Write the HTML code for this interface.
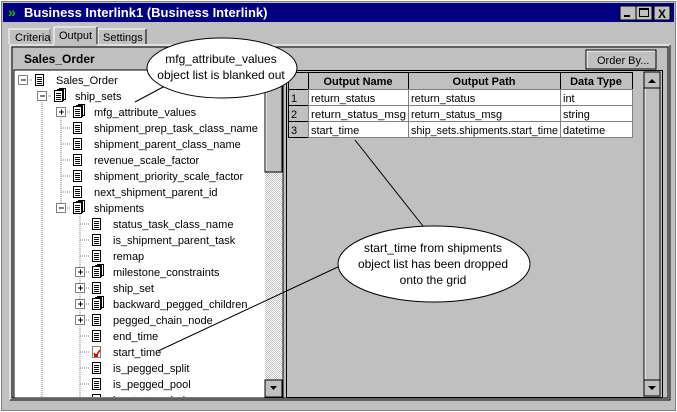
<!DOCTYPE html>
<html><head><meta charset="utf-8"><style>
html,body{margin:0;padding:0;background:#c0c0c0;}
svg{display:block;font-family:"Liberation Sans",sans-serif;}
</style></head><body>
<svg width="677" height="412" viewBox="0 0 677 412" xmlns="http://www.w3.org/2000/svg">
<defs>
<pattern id="chk" width="2" height="2" patternUnits="userSpaceOnUse"><rect width="2" height="2" fill="#fff"/><rect width="1" height="1" fill="#c0c0c0"/><rect x="1" y="1" width="1" height="1" fill="#c0c0c0"/></pattern>
<g id="doc"><rect x="0.5" y="0.5" width="8" height="11" fill="#fff" stroke="#000"/><line x1="2" y1="3.5" x2="7" y2="3.5" stroke="#000"/><line x1="2" y1="5.5" x2="7" y2="5.5" stroke="#000"/><line x1="2" y1="7.5" x2="7" y2="7.5" stroke="#000"/><line x1="2" y1="9.5" x2="7" y2="9.5" stroke="#000"/></g>
<g id="docs"><rect x="5.5" y="-1.5" width="6" height="11" fill="#fff" stroke="#000"/><rect x="3.5" y="-0.5" width="6" height="11" fill="#fff" stroke="#000"/><use href="#doc"/></g>
<g id="plus"><rect x="-4.5" y="-4.5" width="9" height="9" fill="#fff" stroke="#808080"/><line x1="-2" y1="0" x2="3" y2="0" stroke="#000"/><line x1="0.5" y1="-2.5" x2="0.5" y2="2.5" stroke="#000"/></g>
<g id="minus"><rect x="-4.5" y="-4.5" width="9" height="9" fill="#fff" stroke="#808080"/><line x1="-2" y1="0" x2="3" y2="0" stroke="#000"/></g>
</defs>
<rect x="0" y="0" width="677" height="412" fill="#c0c0c0"/>
<rect x="0.5" y="0.5" width="676" height="411" fill="none" stroke="#fff"/>
<rect x="1.5" y="1.5" width="674" height="409" fill="none" stroke="#808080"/>
<rect x="3" y="3" width="671" height="19" fill="#000080"/>
<text x="8" y="17" fill="#0c0" font-size="14" font-weight="bold">»</text>
<text x="24" y="17" fill="#fff" font-size="13" font-weight="bold">Business Interlink1 (Business Interlink)</text>
<g font-size="11" font-weight="bold">
<rect x="620" y="6" width="16" height="14" fill="#c0c0c0" stroke="#000"/><line x1="624" y1="16" x2="630" y2="16" stroke="#000" stroke-width="2"/>
<rect x="636" y="6" width="16" height="14" fill="#c0c0c0" stroke="#000"/><rect x="639.5" y="8.5" width="9" height="8" fill="none" stroke="#000"/><line x1="639" y1="9.5" x2="649" y2="9.5" stroke="#000"/>
<rect x="654" y="6" width="16" height="14" fill="#c0c0c0" stroke="#000"/><text x="658" y="18" font-size="12">X</text>
</g>
<g font-size="11">
<path d="M9 44 V29 H50 V44" fill="none" stroke="#fff"/><line x1="50" y1="29" x2="50" y2="44" stroke="#808080"/>
<text x="15" y="41">Criteria</text>
<path d="M54 44 V27 H97 V44" fill="none" stroke="#fff"/><line x1="97" y1="27" x2="97" y2="44" stroke="#000"/>
<text x="59" y="39">Output</text>
<path d="M98 44 V29 H146 V44" fill="none" stroke="#fff"/><line x1="146" y1="29" x2="146" y2="44" stroke="#000"/>
<text x="103" y="41">Settings</text>
</g>
<path d="M10 400 V45 H54 M97 45 H670" fill="none" stroke="#fff"/>
<path d="M10 400 H670 V45" fill="none" stroke="#000"/>
<rect x="12" y="47" width="656" height="351" fill="none" stroke="#000"/>
<text x="24" y="63" font-size="12" font-weight="bold">Sales_Order</text>
<rect x="586" y="50" width="70" height="19" fill="#c0c0c0" stroke="#000"/>
<path d="M587 68 V51 H655" fill="none" stroke="#fff"/>
<text x="597" y="64" font-size="11">Order By...</text>
<rect x="14" y="70" width="269" height="328" fill="#fff" stroke="#000"/>
<rect x="265" y="71" width="17" height="326" fill="url(#chk)"/>
<rect x="265" y="71" width="17" height="101" fill="#c0c0c0" stroke="#000"/>
<path d="M266 171 V72 H281" fill="none" stroke="#fff"/>
<rect x="265" y="380" width="17" height="17" fill="#c0c0c0" stroke="#000"/>
<path d="M270 386 h7 l-3.5 4z" fill="#000"/>
<svg x="15" y="71" width="250" height="326" overflow="hidden">
<g transform="translate(-15,-71)" font-size="11">
<g stroke="#808080" stroke-dasharray="1,1">
<line x1="42" y1="96" x2="42" y2="400"/>
<line x1="61" y1="112" x2="61" y2="208"/>
<line x1="80" y1="214" x2="80" y2="400"/>
<line x1="27" y1="80" x2="33" y2="80"/><line x1="46" y1="96" x2="52" y2="96"/>
<line x1="65" y1="112" x2="71" y2="112"/>
<line x1="61" y1="128" x2="71" y2="128"/><line x1="61" y1="144" x2="71" y2="144"/><line x1="61" y1="160" x2="71" y2="160"/><line x1="61" y1="176" x2="71" y2="176"/><line x1="61" y1="192" x2="71" y2="192"/>
<line x1="65" y1="208" x2="71" y2="208"/>
<line x1="80" y1="224" x2="90" y2="224"/><line x1="80" y1="240" x2="90" y2="240"/><line x1="80" y1="256" x2="90" y2="256"/>
<line x1="84" y1="272" x2="90" y2="272"/><line x1="84" y1="288" x2="90" y2="288"/><line x1="84" y1="304" x2="90" y2="304"/><line x1="84" y1="320" x2="90" y2="320"/>
<line x1="80" y1="336" x2="90" y2="336"/><line x1="80" y1="352" x2="90" y2="352"/><line x1="80" y1="368" x2="90" y2="368"/><line x1="80" y1="384" x2="90" y2="384"/><line x1="80" y1="400" x2="90" y2="400"/>
</g>
<use href="#minus" x="23" y="80"/><use href="#doc" x="35" y="74"/><text x="56" y="84">Sales_Order</text>
<use href="#minus" x="42" y="96"/><use href="#docs" x="54" y="90"/><text x="75" y="100">ship_sets</text>
<use href="#plus" x="61" y="112"/><use href="#docs" x="73" y="106"/><text x="94" y="116">mfg_attribute_values</text>
<use href="#doc" x="73" y="122"/><text x="94" y="132">shipment_prep_task_class_name</text>
<use href="#doc" x="73" y="138"/><text x="94" y="148">shipment_parent_class_name</text>
<use href="#doc" x="73" y="154"/><text x="94" y="164">revenue_scale_factor</text>
<use href="#doc" x="73" y="170"/><text x="94" y="180">shipment_priority_scale_factor</text>
<use href="#doc" x="73" y="186"/><text x="94" y="196">next_shipment_parent_id</text>
<use href="#minus" x="61" y="208"/><use href="#docs" x="73" y="202"/><text x="94" y="212">shipments</text>
<use href="#doc" x="92" y="218"/><text x="113" y="228">status_task_class_name</text>
<use href="#doc" x="92" y="234"/><text x="113" y="244">is_shipment_parent_task</text>
<use href="#doc" x="92" y="250"/><text x="113" y="260">remap</text>
<use href="#plus" x="80" y="272"/><use href="#docs" x="92" y="266"/><text x="113" y="276">milestone_constraints</text>
<use href="#plus" x="80" y="288"/><use href="#doc" x="92" y="282"/><text x="113" y="292">ship_set</text>
<use href="#plus" x="80" y="304"/><use href="#docs" x="92" y="298"/><text x="113" y="308">backward_pegged_children</text>
<use href="#plus" x="80" y="320"/><use href="#doc" x="92" y="314"/><text x="113" y="324">pegged_chain_node</text>
<use href="#doc" x="92" y="330"/><text x="113" y="340">end_time</text>
<rect x="92.5" y="346.5" width="8" height="11" fill="#fff" stroke="#808080"/><path d="M94 353 l2 3 l4 -6" stroke="#d00" stroke-width="1.5" fill="none"/><rect x="94" y="354" width="4" height="3" fill="#d00"/><text x="113" y="356">start_time</text>
<use href="#doc" x="92" y="362"/><text x="113" y="372">is_pegged_split</text>
<use href="#doc" x="92" y="378"/><text x="113" y="388">is_pegged_pool</text>
<use href="#doc" x="92" y="394"/><text x="113" y="404">is_start_period</text>
</g></svg>
<rect x="286.5" y="70.5" width="376" height="327" fill="#c0c0c0" stroke="#000"/>
<g font-size="11">
<g fill="#c0c0c0" stroke="#000">
<rect x="288.5" y="72.5" width="20" height="17"/><rect x="308.5" y="72.5" width="100" height="17"/><rect x="408.5" y="72.5" width="152" height="17"/><rect x="560.5" y="72.5" width="72" height="17"/>
<rect x="288.5" y="89.5" width="20" height="16"/><rect x="288.5" y="105.5" width="20" height="16"/><rect x="288.5" y="121.5" width="20" height="16"/>
</g>
<g fill="#fff" stroke="#808080">
<rect x="308.5" y="89.5" width="100" height="16"/><rect x="408.5" y="89.5" width="152" height="16"/><rect x="560.5" y="89.5" width="72" height="16"/>
<rect x="308.5" y="105.5" width="100" height="16"/><rect x="408.5" y="105.5" width="152" height="16"/><rect x="560.5" y="105.5" width="72" height="16"/>
<rect x="308.5" y="121.5" width="100" height="16"/><rect x="408.5" y="121.5" width="152" height="16"/><rect x="560.5" y="121.5" width="72" height="16"/>
</g>
<g font-weight="bold" text-anchor="middle"><text x="358" y="85">Output Name</text><text x="484" y="85">Output Path</text><text x="596" y="85">Data Type</text></g>
<text x="291" y="102">1</text><text x="291" y="118">2</text><text x="291" y="134">3</text>
<text x="311" y="102">return_status</text><text x="411" y="102">return_status</text><text x="563" y="102">int</text>
<text x="311" y="118" textLength="95" lengthAdjust="spacingAndGlyphs">return_status_msg</text><text x="411" y="118">return_status_msg</text><text x="563" y="118">string</text>
<text x="311" y="134">start_time</text><text x="411" y="134" textLength="147" lengthAdjust="spacingAndGlyphs">ship_sets.shipments.start_time</text><text x="563" y="134">datetime</text>
</g>
<rect x="644" y="72" width="16" height="324" fill="#c0c0c0" stroke="#000"/>
<line x1="645" y1="88" x2="645" y2="380" stroke="#fff"/>
<rect x="644" y="72" width="16" height="16" fill="#c0c0c0" stroke="#000"/><path d="M648 83 h8 l-4 -4z" fill="#000"/>
<rect x="644" y="380" width="16" height="16" fill="#c0c0c0" stroke="#000"/><path d="M648 386 h8 l-4 4z" fill="#000"/>
<g stroke="#000" stroke-width="1" fill="#fff">
<line x1="135" y1="102" x2="165" y2="86"/>
<ellipse cx="222" cy="68" rx="75" ry="30"/>
<line x1="355" y1="140" x2="423" y2="226"/>
<line x1="158" y1="351" x2="340" y2="266"/>
<ellipse cx="434" cy="264" rx="96" ry="38"/>
</g>
<g font-size="12" text-anchor="middle">
<text x="221" y="63">mfg_attribute_values</text><text x="221" y="79">object list is blanked out</text>
<text x="433" y="252">start_time from shipments</text><text x="433" y="268">object list has been dropped</text><text x="433" y="284">onto the grid</text>
</g>
</svg>
</body></html>
